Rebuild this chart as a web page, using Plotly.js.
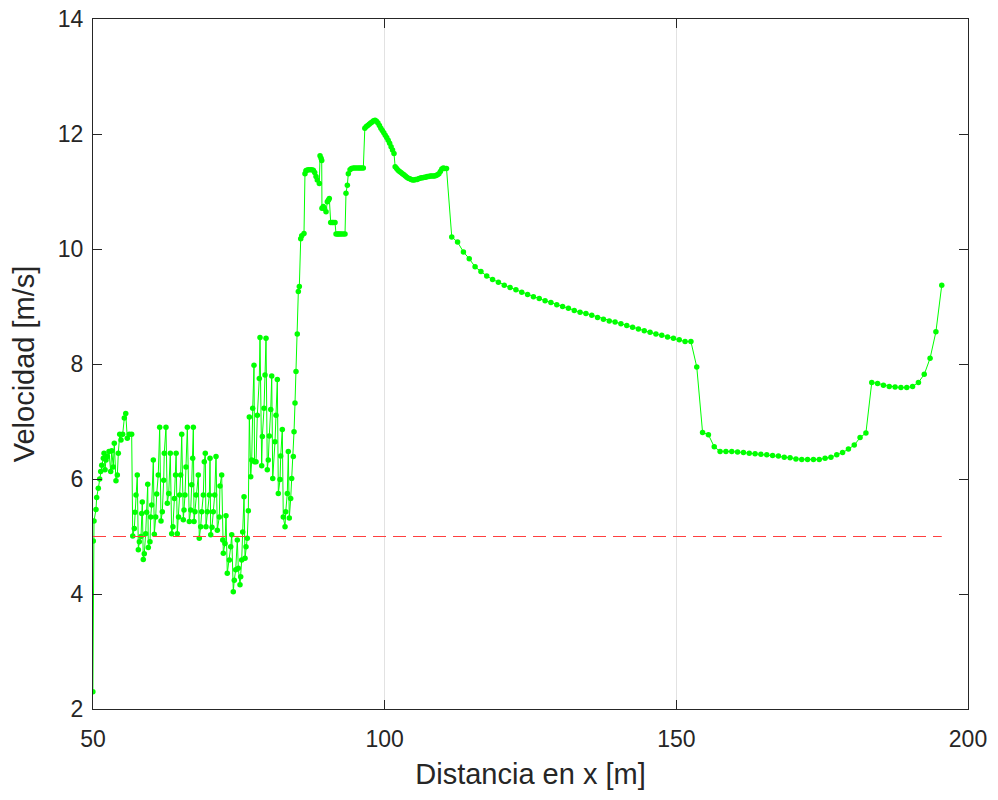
<!DOCTYPE html>
<html>
<head>
<meta charset="utf-8">
<script src="https://cdn.plot.ly/plotly-3.0.1.min.js"></script>
<style>html,body{margin:0;padding:0;background:#fff;}#chart{width:998px;height:800px;}</style>
</head>
<body>
<div id="chart"></div>
<script>
// Oscillating section (50 - 85 m)
const xOsc = [49.98,50.05,50.17,50.51,50.63,50.91,51.15,51.32,51.49,51.77,51.89,52.06,52.23,52.45,52.74,53.03,53.21,53.48,53.65,53.94,
54.17,54.34,54.58,54.80,55.09,55.37,55.61,55.88,56.22,56.63,56.81,57.08,57.20,57.37,57.59,57.77,57.94,58.23,58.35,58.45,
58.62,58.79,59.03,59.20,59.38,59.48,59.77,59.89,60.06,60.34,60.51,60.75,60.92,61.19,61.43,61.66,61.88,62.12,62.22,62.51,
62.74,62.98,63.25,63.49,63.70,63.95,64.15,64.25,64.45,64.67,64.85,65.03,65.21,65.48,65.60,65.77,65.94,66.17,66.51,66.75,
66.92,67.09,67.20,67.32,67.49,67.66,68.05,68.22,68.46,68.64,68.91,69.08,69.25,69.37,69.60,69.94,70.06,70.18,70.40,70.62,
70.86,71.09,71.31,71.65,71.77,72.06,72.24,72.34,72.63,72.80,73.02,73.37,73.61,73.78,74.05,74.22,74.46,74.74,74.91,75.20,
75.32,75.49,75.66,75.89,76.06,76.23,76.45,76.63,76.80,77.04,77.21,77.38,77.60,77.69,77.95,78.17,78.51,78.63,78.92,79.03,
79.32,79.49,79.66,79.88,80.05,80.22,80.47,80.64,80.81,81.20,81.37,81.60,81.77,82.06,82.18,82.45,82.62,82.92,83.04,83.31,
83.48,83.65,83.89,84.06,84.34,84.46,84.63,84.80];
const yOsc = [2.30,4.92,5.27,5.47,5.68,5.84,6.00,6.13,6.24,6.36,6.45,6.16,6.33,6.39,6.48,6.13,6.49,6.21,6.62,5.97,
6.07,6.45,6.78,6.68,6.78,7.06,7.14,6.71,6.78,6.78,5.01,5.14,5.42,5.72,6.07,4.77,4.91,5.00,5.40,5.60,
4.60,4.70,5.05,5.42,5.91,4.81,4.91,5.34,5.55,6.33,5.04,5.34,5.74,6.07,6.90,5.27,5.43,5.98,6.45,6.90,
5.58,5.75,6.45,5.05,5.17,5.66,6.07,6.45,5.05,5.34,5.72,6.07,6.78,5.29,5.46,5.72,6.21,6.90,5.26,5.46,
5.90,6.36,6.90,5.26,5.43,5.72,6.07,4.97,5.17,5.43,5.72,6.30,6.45,5.17,5.43,5.72,6.36,5.03,5.16,5.43,
5.72,6.39,5.11,5.34,5.88,6.07,4.94,4.71,4.88,5.36,4.36,4.59,4.82,5.03,4.04,4.24,4.42,4.94,4.45,4.16,
4.30,4.59,5.08,5.69,4.62,4.82,4.97,5.45,7.08,6.04,6.33,7.23,7.98,6.30,6.30,7.11,7.75,8.46,6.23,6.74,
7.23,7.81,8.45,6.16,6.33,6.75,7.21,7.79,6.01,6.65,7.11,7.73,5.75,5.99,6.40,6.86,5.34,5.17,5.43,5.75,
6.48,5.32,5.66,6.01,6.39,6.82,7.32,7.87];

// Rising / plateau section (85 - 111 m)
const xPeak = [85.02,85.20,85.37,85.61,85.78,86.17,86.34,86.50,86.64,86.90,87.20,87.50,87.77,88.00,88.23,88.45,88.80,88.92,89.10,89.21,
89.25,89.48,89.70,89.95,90.17,90.35,90.51,90.75,91.00,91.20,91.49,91.66,91.90,92.10,92.34,92.60,92.90,93.20,93.37,93.60,
93.77,94.06,94.30,94.62,94.90,95.20,95.50,95.77,96.05,96.34,96.60,96.85,97.10,97.35,97.60,97.85,98.10,98.35,98.60,98.85,
99.10,99.35,99.60,99.85,100.10,100.35,100.60,100.85,101.10,101.35,101.60,101.80,102.05,102.30,102.55,102.80,103.05,103.30,103.55,103.80,
104.05,104.30,104.55,104.80,105.05,105.30,105.55,105.80,106.05,106.30,106.55,106.80,107.05,107.30,107.55,107.80,108.05,108.30,108.55,108.80,
109.05,109.30,109.55,109.80,110.05,110.30,110.60];
const yPeak = [8.52,9.26,9.35,10.18,10.23,10.27,11.31,11.36,11.37,11.38,11.38,11.38,11.37,11.33,11.26,11.20,11.14,11.62,11.58,11.54,
10.71,10.74,10.70,10.65,10.82,10.85,10.88,10.46,10.46,10.46,10.46,10.26,10.26,10.26,10.26,10.26,10.26,10.26,10.97,11.11,
11.31,11.38,11.40,11.41,11.41,11.41,11.41,11.41,11.41,11.41,12.10,12.13,12.15,12.17,12.19,12.21,12.23,12.24,12.22,12.19,
12.15,12.10,12.06,12.02,11.98,11.94,11.89,11.84,11.78,11.72,11.66,11.43,11.40,11.37,11.35,11.33,11.31,11.29,11.27,11.25,
11.23,11.22,11.21,11.20,11.20,11.21,11.21,11.22,11.23,11.24,11.24,11.25,11.25,11.26,11.26,11.27,11.27,11.27,11.27,11.28,
11.29,11.31,11.35,11.39,11.41,11.40,11.40];

// Smooth section (111.5 - 195.5 m)
const xTail = [111.5,112.5,113.5,114.5,115.5,116.5,117.5,118.5,119.5,120.5,121.5,122.5,123.5,124.5,125.5,126.5,127.5,128.5,129.5,130.5,
131.5,132.5,133.5,134.5,135.5,136.5,137.5,138.5,139.5,140.5,141.5,142.5,143.5,144.5,145.5,146.5,147.5,148.5,149.5,150.5,
151.5,152.5,153.5,154.5,155.5,156.5,157.5,158.5,159.5,160.5,161.5,162.5,163.5,164.5,165.5,166.5,167.5,168.5,169.5,170.5,
171.5,172.5,173.5,174.5,175.5,176.5,177.5,178.5,179.5,180.5,181.5,182.5,183.5,184.5,185.5,186.5,187.5,188.5,189.5,190.5,
191.5,192.5,193.5,194.5,195.5];
const yTail = [10.21,10.12,9.95,9.83,9.69,9.61,9.53,9.47,9.42,9.37,9.33,9.29,9.25,9.21,9.17,9.14,9.10,9.07,9.03,9.00,
8.97,8.93,8.90,8.88,8.85,8.81,8.78,8.75,8.73,8.70,8.67,8.64,8.61,8.58,8.55,8.52,8.50,8.47,8.45,8.42,
8.39,8.39,7.95,6.81,6.77,6.56,6.48,6.48,6.48,6.47,6.46,6.45,6.44,6.43,6.42,6.41,6.40,6.38,6.37,6.35,
6.34,6.34,6.34,6.34,6.36,6.38,6.42,6.46,6.52,6.59,6.72,6.80,7.68,7.66,7.63,7.61,7.60,7.59,7.59,7.61,
7.68,7.82,8.10,8.56,9.37];

// Reference threshold
const refX = [50, 195.5];
const refY = [5, 5];

const xTicks = [50, 100, 150, 200];
const yTicks = [2, 4, 6, 8, 10, 12, 14];

const distX = xOsc.concat(xPeak, xTail);
const velY = yOsc.concat(yPeak, yTail);

const FONT = '"Liberation Sans", Arial, Helvetica, sans-serif';
const AX = '#262626';

const traces = [
  {x: distX, y: velY, type: 'scatter', mode: 'lines+markers',
   line: {color: '#00ff00', width: 1}, marker: {color: '#00ff00', size: 5.5},
   hoverinfo: 'x+y', showlegend: false},
  {x: refX, y: refY, type: 'scatter', mode: 'lines',
   line: {color: '#ff4040', width: 1.2, dash: '13px,7px'}, showlegend: false}
];

const layout = {
  width: 998, height: 800,
  margin: {l: 93, r: 30, t: 19, b: 91},
  paper_bgcolor: '#ffffff', plot_bgcolor: '#ffffff',
  font: {family: FONT, color: AX},
  showlegend: false,
  xaxis: {
    range: [50, 200], tickvals: xTicks, ticktext: xTicks.map(String),
    ticks: 'inside', ticklen: 9, tickwidth: 1, tickcolor: AX,
    showline: true, linecolor: AX, linewidth: 1, mirror: 'ticks',
    showgrid: true, gridcolor: '#e2e2e2', gridwidth: 1, zeroline: false,
    tickfont: {size: 23, family: FONT, color: AX},
    ticklabelstandoff: 9,
    title: {text: 'Distancia en x [m]', font: {size: 29, family: FONT, color: AX}, standoff: 13},
    automargin: false
  },
  yaxis: {
    range: [2, 14], tickvals: yTicks, ticktext: yTicks.map(String),
    ticks: 'inside', ticklen: 9, tickwidth: 1, tickcolor: AX,
    showline: true, linecolor: AX, linewidth: 1, mirror: 'ticks',
    showgrid: false, zeroline: false,
    tickfont: {size: 23, family: FONT, color: AX},
    ticklabelstandoff: 4,
    title: {text: 'Velocidad [m/s]', font: {size: 29, family: FONT, color: AX}, standoff: 14},
    automargin: false
  }
};

Plotly.newPlot('chart', traces, layout, {displayModeBar: false, staticPlot: true});
</script>
</body>
</html>
